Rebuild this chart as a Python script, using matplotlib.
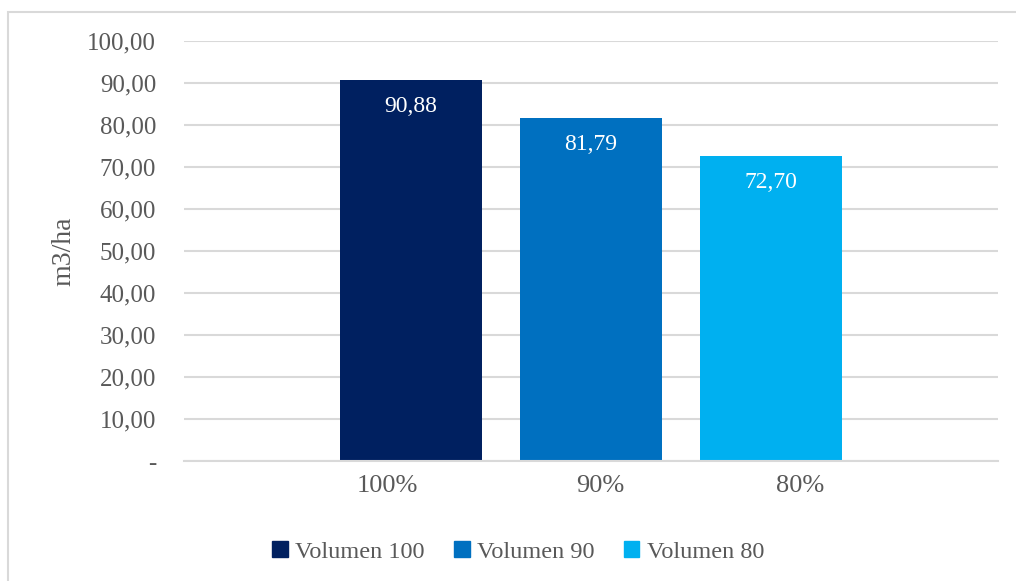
import matplotlib
matplotlib.use('Agg')
from matplotlib import pyplot as plt
from matplotlib.patches import Rectangle

# Volumen por hectárea según dosis
categories = ['100%', '90%', '80%']
series_names = ['Volumen 100', 'Volumen 90', 'Volumen 80']
values = [90.88, 81.79, 72.70]
colors = ['#002060', '#0070C0', '#00B0F0']
yticks = [0, 10, 20, 30, 40, 50, 60, 70, 80, 90, 100]

plt.rcParams['font.family'] = ['Liberation Serif', 'DejaVu Serif']
textColor = '#595959'
gridColor = '#d9d9d9'

fig = plt.figure(figsize=(10.16, 5.81), dpi=100)
ax = fig.add_axes([0.181, 0.2065, 0.801, 0.7225])

# chart area border
fig.patches.append(Rectangle((0.0074, -0.1), 1.2, 1.08, transform=fig.transFigure,
                             fill=False, ec=gridColor, lw=1.5, zorder=0))

x = list(range(len(categories)))
ax.bar(x, values, width=0.79, color=colors, zorder=2)

for i in range(len(values)):
    ax.annotate('{:.2f}'.format(values[i]).replace('.', ','),
                (x[i], values[i]), xytext=(0, -19.5), textcoords='offset points',
                ha='center', va='center', color='white', fontsize=17)

# category labels sit a little off the bar centres
labelShift = [-0.13, 0.055, 0.16]
ax.set_xlim(-1.26, 3.26)
ax.set_ylim(0, 100)
ax.set_xticks([x[i] + labelShift[i] for i in range(len(x))])
ax.set_xticklabels(categories, fontsize=19, color=textColor)
ax.set_yticks(yticks)
ax.set_yticklabels(['-' if v == 0 else '{:.2f}'.format(v).replace('.', ',') for v in yticks],
                   fontsize=18, color=textColor)
ax.tick_params(axis='both', length=0)
ax.tick_params(axis='y', pad=20)
ax.tick_params(axis='x', pad=10)

ax.grid(axis='y', color=gridColor, lw=1.5, zorder=0)
for side in ['top', 'right', 'left']:
    ax.spines[side].set_visible(False)
ax.spines['bottom'].set_color(gridColor)
ax.spines['bottom'].set_linewidth(1.5)

ax.set_ylabel('m3/ha', fontsize=20, color=textColor, va='center')
ax.yaxis.set_label_coords(-0.147, 0.5)

handles = [Rectangle((0, 0), 1, 1, color=c) for c in colors]
fig.legend(handles, series_names, loc='center', bbox_to_anchor=(0.51, 0.05),
           ncol=3, frameon=False, fontsize=17.5, labelcolor=textColor,
           handlelength=0.65, handleheight=0.65, handletextpad=0.3, columnspacing=1.2)

fig.savefig('out.png', dpi=100)
